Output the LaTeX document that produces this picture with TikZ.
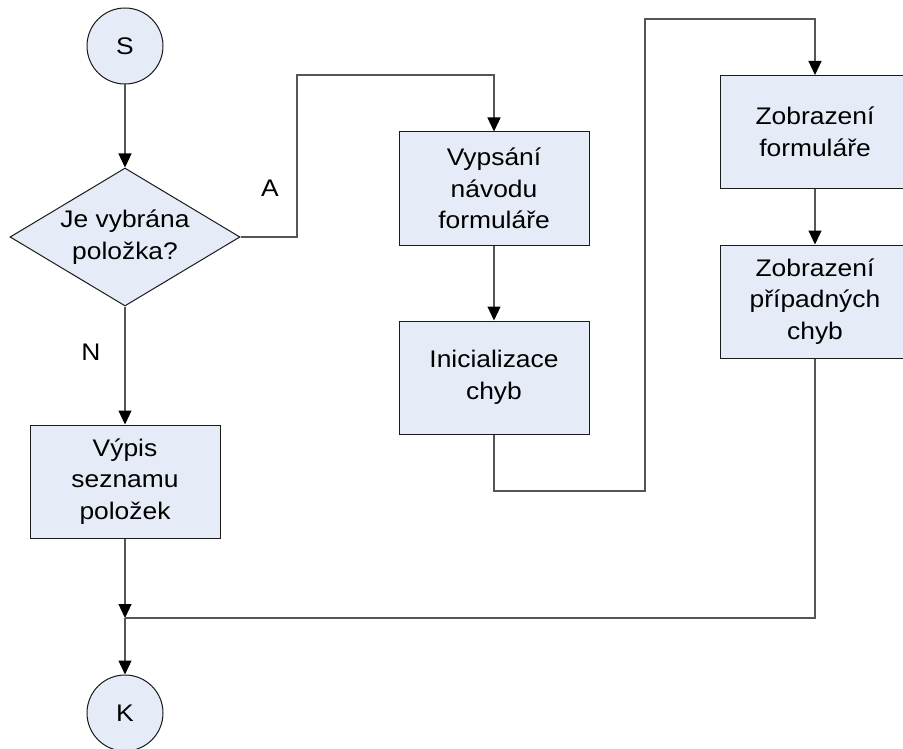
\documentclass[tikz,border=0pt]{standalone}
\usepackage{fontspec}
\setmainfont{Liberation Sans}[FakeStretch=1.1]
\usetikzlibrary{shapes.geometric,arrows.meta}
\definecolor{boxfill}{HTML}{E6ECF7}
\definecolor{edge}{HTML}{1A1A1A}
\definecolor{wire}{HTML}{555555}
\tikzset{
  every node/.style={font=\fontsize{24}{31.7}\selectfont, text=black},
  procbox/.style={draw=edge, fill=boxfill, line width=1pt, rectangle,
    minimum width=190pt, minimum height=113pt, align=center, inner sep=0pt},
  terminal/.style={draw=edge, fill=boxfill, line width=1pt, circle,
    minimum size=76pt, inner sep=0pt},
  decision/.style={draw=edge, fill=boxfill, line width=1pt, diamond,
    aspect=1.667, minimum width=230pt, minimum height=138pt, inner sep=0pt, align=center},
  wireline/.style={draw=wire, line width=1.2pt},
  arr/.style={wireline, -{Triangle[length=14pt,width=13pt,color=black]}},
  lbl/.style={inner sep=0pt}
}
\begin{document}
\begin{tikzpicture}[x=1pt,y=-1pt]
  \clip (0,0) rectangle (903,749);
  \fill[white] (0,0) rectangle (903,749);

  % nodes
  \node[terminal] (S) at (125,46) {S};
  \node[decision] (D) at (125,237) {Je vybrána\\položka?};
  \node[procbox] (vypis) at (125,481.5) {Výpis\\seznamu\\položek};
  \node[procbox] (vypsani) at (494,188.5) {Vypsání\\návodu\\formuláře};
  \node[procbox] (init) at (494,377.5) {Inicializace\\chyb};
  \node[procbox] (zf) at (815,132) {Zobrazení\\formuláře};
  \node[procbox] (zpc) at (815,301.5) {Zobrazení\\případných\\chyb};
  \node[terminal] (K) at (125,713) {K};

  % bend points of the connectors
  \coordinate (ja) at (297,75);
  \coordinate (jb1) at (645,491);
  \coordinate (jb2) at (645,19);
  \coordinate (jm) at (125,618);

  % connectors
  \draw[arr] (S.south) -- (D.north);
  \draw[arr] (D.east) -| (ja) -| (vypsani.north);
  \draw[arr] (D.south) -- (vypis.north);
  \draw[arr] (vypsani.south) -- (init.north);
  \draw[arr] (init.south) |- (jb1) -- (jb2) -| (zf.north);
  \draw[arr] (zf.south) -- (zpc.north);
  \draw[arr] (vypis.south) -- (jm);
  \draw[wireline] (zpc.south) |- (jm);
  \draw[arr] (jm) -- (K.north);

  % branch labels
  \node[lbl] (labA) at (270,188) {A};
  \node[lbl] (labN) at (91,352) {N};
\end{tikzpicture}
\end{document}
